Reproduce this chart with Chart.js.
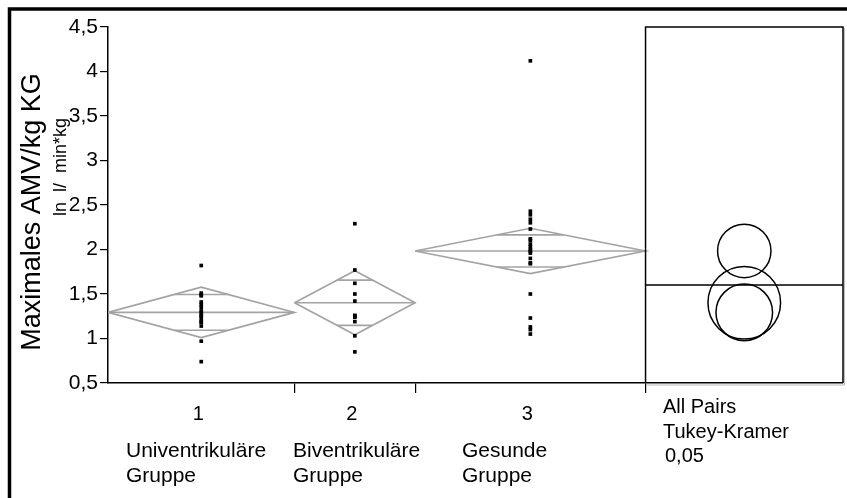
<!DOCTYPE html>
<html>
<head>
<meta charset="utf-8">
<script src="https://cdn.jsdelivr.net/npm/chart.js@4/dist/chart.umd.min.js"></script>
<style>
  html, body { margin: 0; padding: 0; background: #fff; }
  #wrap { position: relative; width: 847px; height: 498px; }
</style>
</head>
<body>
<div id="wrap"><canvas id="c" width="847" height="498"></canvas></div>
<script>
// Group identifiers and names shown under the x axis
const groupIds = ['1', '2', '3'];
const groupNames = [['Univentrikuläre', 'Gruppe'], ['Biventrikuläre', 'Gruppe'], ['Gesunde', 'Gruppe']];

// Maximal AMV per kg body weight (l/min*kg), one value per subject
const uniValues = [1.82, 1.51, 1.49, 1.48, 1.41, 1.38, 1.35, 1.31, 1.29, 1.26, 1.25, 1.22, 1.19, 1.18, 1.14, 0.97, 0.74];
const biValues = [2.29, 1.77, 1.62, 1.50, 1.42, 1.26, 1.25, 1.24, 1.19, 1.03, 0.85];
const healthyValues = [4.12, 2.43, 2.39, 2.34, 2.30, 2.23, 2.12, 2.10, 2.06, 2.03, 2.00, 1.98, 1.96, 1.90, 1.85, 1.84, 1.50, 1.23, 1.13, 1.10, 1.05];

// Half-height of each means diamond (95% CI of the mean)
const ciHalf = [0.283, 0.360, 0.255];
// Tukey-Kramer comparison circle radii (same units as y)
const circleRadius = [0.318, 0.408, 0.300];
const grandMean = 1.60;

// Y axis ticks
const yTicks = [0.5, 1, 1.5, 2, 2.5, 3, 3.5, 4, 4.5];
const testLabels = ['All Pairs', 'Tukey-Kramer', '0,05'];

const groups = [uniValues, biValues, healthyValues];
const sizes = groups.map(g => g.length);
const means = groups.map(g => g.reduce((s, v) => s + v, 0) / g.length);

// Group widths on the x axis are proportional to group size
const bounds = [];
let acc = 0;
sizes.forEach(n => { bounds.push([acc, acc + n]); acc += n; });
const panelStart = acc;          // comparison-circle panel begins here
const panelEnd = acc + 18;
const panelCenter = (panelStart + panelEnd) / 2;

const FONT = "'Liberation Sans', Arial, sans-serif";
const GRAY = '#a3a3a3';
const datasets = [];

groups.forEach((vals, i) => {
  const [l, r] = bounds[i];
  const c = (l + r) / 2;
  const m = means[i];
  const h = ciHalf[i];
  const lineDs = (data) => ({
    type: 'scatter', data, showLine: true, borderColor: GRAY, borderWidth: 1.6,
    pointRadius: 0, tension: 0, order: 2
  });
  // diamond outline
  datasets.push(lineDs([{x: l, y: m}, {x: c, y: m + h}, {x: r, y: m}, {x: c, y: m - h}, {x: l, y: m}]));
  // mean line
  datasets.push(lineDs([{x: l, y: m}, {x: r, y: m}]));
  // overlap marks
  const k = 1 / Math.SQRT2;
  const hw = (1 - k) * (r - l) / 2;
  datasets.push(lineDs([{x: c - hw, y: m + h * k}, {x: c + hw, y: m + h * k}]));
  datasets.push(lineDs([{x: c - hw, y: m - h * k}, {x: c + hw, y: m - h * k}]));
  // individual observations
  datasets.push({
    type: 'scatter', data: vals.map(v => ({x: c, y: v})),
    pointStyle: 'rect', pointRadius: 2.6, pointBackgroundColor: '#000',
    pointBorderWidth: 0, borderWidth: 0, order: 1
  });
});

// grand mean line in the comparison panel
datasets.push({
  type: 'scatter', data: [{x: panelStart, y: grandMean}, {x: panelEnd, y: grandMean}],
  showLine: true, borderColor: '#000', borderWidth: 1.5, pointRadius: 0, order: 1
});

const decor = {
  id: 'decor',
  beforeDraw(chart) {
    const ctx = chart.ctx;
    ctx.save();
    ctx.fillStyle = '#fff';
    ctx.fillRect(0, 0, chart.width, chart.height);
    ctx.restore();
  },
  afterDatasetsDraw(chart) {
    const {ctx, chartArea: a, scales: {x, y}} = chart;
    ctx.save();
    // comparison panel box
    const p0 = x.getPixelForValue(panelStart);
    const p1 = x.getPixelForValue(panelEnd);
    ctx.strokeStyle = '#bbb';
    ctx.lineWidth = 1;
    ctx.beginPath();
    ctx.moveTo(p1 + 1.5, a.top + 1); ctx.lineTo(p1 + 1.5, a.bottom + 2);
    ctx.lineTo(p0 + 1, a.bottom + 2);
    ctx.stroke();
    ctx.strokeStyle = '#000';
    ctx.lineWidth = 1.5;
    ctx.beginPath();
    ctx.moveTo(p0, a.bottom); ctx.lineTo(p0, a.top); ctx.lineTo(p1, a.top); ctx.lineTo(p1, a.bottom);
    ctx.stroke();
    // comparison circles
    const cx = x.getPixelForValue(panelCenter);
    ctx.lineWidth = 1.5;
    means.forEach((m, i) => {
      const cy = y.getPixelForValue(m);
      const r = Math.abs(y.getPixelForValue(m + circleRadius[i]) - cy);
      ctx.beginPath();
      ctx.arc(cx, cy, r, 0, Math.PI * 2);
      ctx.stroke();
    });
    ctx.restore();
  },
  afterDraw(chart) {
    const {ctx, scales: {x}} = chart;
    ctx.save();
    ctx.fillStyle = '#000';
    // group numbers and names
    ctx.font = '20px ' + FONT;
    ctx.textBaseline = 'alphabetic';
    groupIds.forEach((id, i) => {
      const c = x.getPixelForValue((bounds[i][0] + bounds[i][1]) / 2);
      ctx.textAlign = 'center';
      ctx.fillText(id, c - 3, 420);
    });
    const nameX = [126, 293, 462];
    ctx.textAlign = 'left';
    ctx.font = '21px ' + FONT;
    groupNames.forEach((lines, i) => {
      lines.forEach((t, j) => ctx.fillText(t, nameX[i], 457 + j * 25));
    });
    // test description under the comparison panel
    ctx.font = '20px ' + FONT;
    ctx.fillText(testLabels[0], 663, 413);
    ctx.fillText(testLabels[1], 663, 438);
    ctx.fillText(testLabels[2], 665, 462);
    // y axis titles
    ctx.save();
    ctx.translate(40, 212);
    ctx.rotate(-Math.PI / 2);
    ctx.textAlign = 'center';
    ctx.font = '27px ' + FONT;
    ctx.fillText('Maximales AMV/kg KG', 0, 0);
    ctx.restore();
    ctx.save();
    ctx.translate(66, 167);
    ctx.rotate(-Math.PI / 2);
    ctx.textAlign = 'center';
    ctx.font = '18px ' + FONT;
    ctx.fillText('ln  l/  min*kg', 0, 0);
    ctx.restore();
    // outer frame
    ctx.strokeStyle = '#000';
    ctx.lineWidth = 3.5;
    ctx.beginPath();
    ctx.moveTo(9.5, chart.height); ctx.lineTo(9.5, 9); ctx.lineTo(chart.width, 9);
    ctx.stroke();
    ctx.restore();
  }
};

new Chart(document.getElementById('c'), {
  type: 'scatter',
  data: { datasets },
  options: {
    responsive: false,
    animation: false,
    events: [],
    layout: { padding: { left: 0, top: 27, right: 2, bottom: 0 } },
    plugins: { legend: { display: false }, tooltip: { enabled: false } },
    scales: {
      x: {
        type: 'linear', min: 0, max: panelEnd,
        afterFit(s) { s.height = 115; },
        afterBuildTicks(s) { s.ticks = bounds.map(b => ({ value: b[1] })); },
        ticks: { callback: () => '', font: { size: 1 } },
        grid: { drawOnChartArea: false, tickLength: 10, color: '#000', lineWidth: 1.2 },
        border: { color: '#000', width: 1.5 }
      },
      y: {
        type: 'linear', min: yTicks[0], max: yTicks[yTicks.length - 1],
        afterFit(s) { s.width = 108; },
        afterBuildTicks(s) { s.ticks = yTicks.map(v => ({ value: v })); },
        ticks: {
          color: '#000', padding: 2,
          font: { size: 21, family: FONT },
          callback: v => String(v).replace('.', ',')
        },
        grid: { drawOnChartArea: false, tickLength: 8, color: '#000', lineWidth: 1.2 },
        border: { color: '#000', width: 1.5 }
      }
    }
  },
  plugins: [decor]
});
</script>
</body>
</html>
